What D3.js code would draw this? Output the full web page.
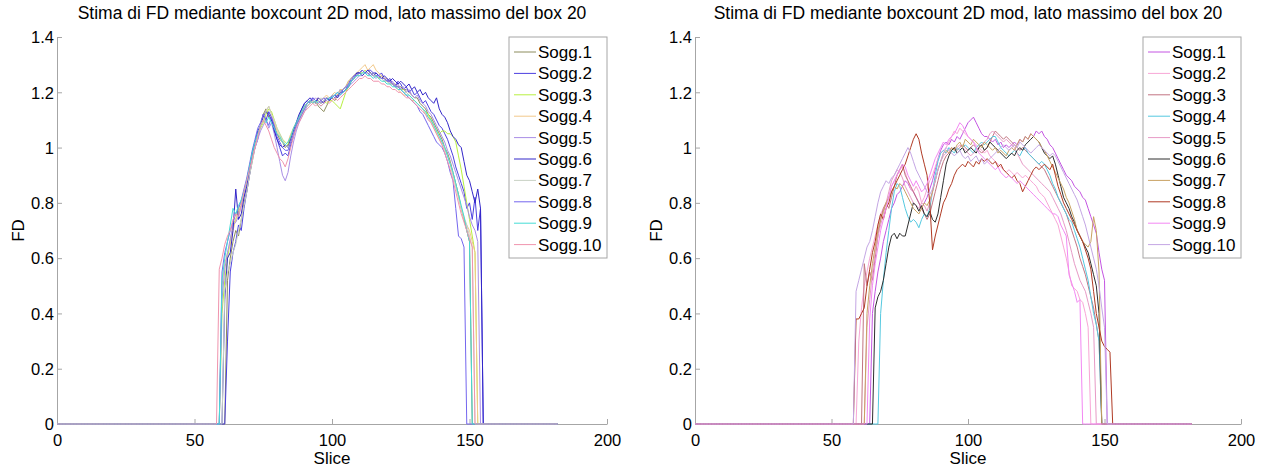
<!DOCTYPE html>
<html>
<head>
<meta charset="utf-8">
<script src="https://cdn.jsdelivr.net/npm/d3@7"></script>
<style>
  body { margin: 0; background: #fff; }
  text { font-family: "Liberation Sans", Arial, sans-serif; fill: #000; }
</style>
</head>
<body>
<div id="chart"></div>
<script>
// slices 0..182, each subject is zero outside its [start, start + values.length) window
var maxSlice = 182;
var labels = ["Sogg.1", "Sogg.2", "Sogg.3", "Sogg.4", "Sogg.5", "Sogg.6", "Sogg.7", "Sogg.8", "Sogg.9", "Sogg.10"];
var xTicks = [0, 50, 100, 150, 200];
var yTicks = [0, 0.2, 0.4, 0.6, 0.8, 1, 1.2, 1.4];
var titleText = "Stima di FD mediante boxcount 2D mod, lato massimo del box 20";

// ---- left panel ----
var leftColors = ["#8c8c5c", "#4b3fe0", "#b8f040", "#f2c98a", "#a98ee6", "#3326c9", "#c9d2c4", "#7466ee", "#44dcd6", "#f094ae"];
var leftStart = [62, 62, 60, 60, 60, 61, 61, 60, 60, 59];

var left1 = [0.52,0.60,0.66,0.70,0.68,0.74,0.80,0.84,0.90,0.95,
  1.00,1.05,1.08,1.12,1.14,1.11,1.10,1.08,1.05,1.03,
  1.02,1.00,1.01,1.04,1.07,1.09,1.11,1.13,1.15,1.16,
  1.17,1.16,1.17,1.15,1.14,1.13,1.15,1.17,1.18,1.17,
  1.19,1.20,1.21,1.22,1.24,1.25,1.26,1.27,1.27,1.28,
  1.27,1.28,1.27,1.26,1.26,1.25,1.26,1.25,1.24,1.24,
  1.23,1.23,1.22,1.22,1.21,1.21,1.20,1.19,1.18,1.18,
  1.16,1.15,1.14,1.12,1.11,1.09,1.07,1.05,1.03,1.00,
  0.98,0.95,0.91,0.87,0.83,0.78,0.74,0.70,0.66];
var left2 = [0.30,0.55,0.62,0.66,0.72,0.70,0.78,0.84,0.90,0.96,
  1.00,1.03,1.08,1.12,1.10,1.13,1.11,1.07,1.03,1.00,
  0.97,0.98,0.97,1.01,1.04,1.08,1.11,1.14,1.16,1.17,
  1.16,1.18,1.17,1.17,1.16,1.17,1.18,1.17,1.19,1.18,
  1.19,1.21,1.20,1.21,1.23,1.25,1.26,1.27,1.27,1.28,
  1.27,1.28,1.28,1.27,1.27,1.26,1.27,1.25,1.24,1.25,
  1.23,1.22,1.24,1.23,1.21,1.22,1.20,1.21,1.19,1.20,
  1.18,1.16,1.17,1.15,1.13,1.12,1.10,1.08,1.07,1.05,
  1.03,1.00,0.97,0.93,0.90,0.87,0.84,0.78,0.80,0.74,
  0.82,0.70,0.78];
var left3 = [0.40,0.52,0.60,0.66,0.72,0.74,0.77,0.79,0.83,0.88,
  0.93,0.98,1.02,1.05,1.07,1.09,1.12,1.14,1.13,1.10,
  1.07,1.05,1.03,1.02,1.01,1.03,1.06,1.08,1.10,1.12,
  1.14,1.15,1.16,1.17,1.16,1.17,1.16,1.17,1.16,1.17,
  1.17,1.16,1.15,1.14,1.17,1.20,1.22,1.24,1.25,1.26,
  1.27,1.27,1.28,1.27,1.26,1.27,1.26,1.25,1.25,1.24,
  1.24,1.23,1.23,1.22,1.22,1.21,1.21,1.20,1.19,1.18,
  1.17,1.16,1.15,1.14,1.13,1.12,1.10,1.08,1.06,1.05,
  1.06,1.06,1.05,1.05,1.04,1.02,0.97,0.92,0.86,0.80,
  0.74,0.68,0.62];
var left4 = [0.50,0.58,0.62,0.65,0.70,0.74,0.78,0.80,0.84,0.88,
  0.93,0.97,1.01,1.05,1.08,1.11,1.13,1.15,1.12,1.09,
  1.06,1.04,1.02,1.01,1.02,1.05,1.07,1.09,1.11,1.13,
  1.15,1.16,1.17,1.16,1.17,1.18,1.17,1.18,1.19,1.18,
  1.19,1.20,1.19,1.21,1.21,1.22,1.24,1.25,1.26,1.27,
  1.28,1.29,1.30,1.28,1.29,1.30,1.28,1.27,1.26,1.25,
  1.25,1.24,1.23,1.22,1.21,1.20,1.19,1.19,1.18,1.17,
  1.17,1.16,1.15,1.14,1.12,1.11,1.09,1.07,1.05,1.03,
  1.01,0.99,0.97,0.94,0.90,0.86,0.82,0.78,0.74,0.72,
  0.70,0.66,0.62];
var left5 = [0.45,0.56,0.62,0.67,0.72,0.73,0.75,0.79,0.82,0.86,
  0.91,0.96,1.00,1.03,1.06,1.08,1.10,1.07,1.09,1.05,
  1.00,0.95,0.90,0.88,0.91,0.97,1.02,1.06,1.09,1.11,
  1.13,1.15,1.16,1.17,1.18,1.17,1.16,1.17,1.18,1.17,
  1.18,1.19,1.18,1.19,1.20,1.21,1.22,1.23,1.24,1.25,
  1.26,1.26,1.27,1.26,1.27,1.26,1.25,1.26,1.25,1.24,
  1.25,1.23,1.24,1.22,1.23,1.21,1.22,1.20,1.21,1.19,
  1.18,1.19,1.17,1.16,1.15,1.13,1.12,1.10,1.08,1.06,
  1.04,1.02,0.99,0.97,0.94,0.91,0.88,0.85,0.82,0.79,
  0.75,0.72,0.70,0.66];
var left6 = [0.45,0.60,0.62,0.70,0.85,0.74,0.76,0.82,0.86,0.92,
  0.98,1.02,1.06,1.08,1.11,1.13,1.12,1.10,1.06,1.03,
  1.01,1.00,1.01,1.00,1.03,1.06,1.09,1.12,1.14,1.16,
  1.17,1.18,1.17,1.16,1.18,1.17,1.16,1.18,1.17,1.18,
  1.19,1.18,1.20,1.20,1.21,1.22,1.24,1.25,1.27,1.27,
  1.26,1.27,1.28,1.27,1.26,1.27,1.26,1.25,1.26,1.25,
  1.24,1.25,1.24,1.23,1.24,1.23,1.22,1.23,1.21,1.22,
  1.20,1.21,1.19,1.20,1.18,1.17,1.16,1.18,1.14,1.12,
  1.11,1.09,1.06,1.04,1.03,1.01,1.00,0.95,0.90,0.88,
  0.84,0.80,0.85,0.78];
var left7 = [0.48,0.55,0.58,0.62,0.65,0.70,0.74,0.79,0.84,0.90,
  0.95,1.00,1.04,1.08,1.10,1.13,1.15,1.12,1.10,1.07,
  1.05,1.03,1.01,1.00,1.02,1.05,1.08,1.10,1.12,1.14,
  1.15,1.16,1.17,1.16,1.17,1.18,1.17,1.18,1.18,1.19,
  1.19,1.20,1.20,1.21,1.22,1.23,1.24,1.25,1.26,1.26,
  1.27,1.27,1.26,1.27,1.26,1.26,1.25,1.25,1.24,1.24,
  1.23,1.23,1.22,1.22,1.21,1.20,1.20,1.19,1.18,1.17,
  1.16,1.15,1.14,1.12,1.11,1.09,1.08,1.06,1.04,1.02,
  1.00,0.97,0.94,0.90,0.86,0.82,0.78,0.75,0.72,0.68,
  0.64];
var left8 = [0.55,0.62,0.66,0.70,0.73,0.76,0.78,0.81,0.85,0.89,
  0.94,0.99,1.03,1.07,1.09,1.12,1.10,1.08,1.11,1.08,
  1.04,1.02,1.00,0.99,0.99,1.02,1.05,1.08,1.10,1.12,
  1.14,1.16,1.17,1.18,1.17,1.16,1.17,1.18,1.17,1.18,
  1.18,1.19,1.20,1.19,1.21,1.22,1.23,1.24,1.26,1.26,
  1.27,1.28,1.27,1.27,1.26,1.27,1.26,1.26,1.25,1.25,
  1.24,1.24,1.23,1.22,1.22,1.21,1.20,1.19,1.18,1.17,
  1.16,1.15,1.13,1.12,1.10,1.08,1.06,1.04,1.02,1.01,
  1.00,0.98,0.95,0.91,0.88,0.78,0.68,0.67,0.64];
var left9 = [0.52,0.60,0.66,0.72,0.78,0.76,0.79,0.81,0.84,0.88,
  0.93,0.98,1.02,1.05,1.08,1.10,1.09,1.11,1.09,1.07,
  1.05,1.04,1.02,1.01,1.02,1.04,1.07,1.09,1.11,1.13,
  1.15,1.16,1.17,1.16,1.17,1.16,1.15,1.16,1.17,1.18,
  1.18,1.19,1.20,1.19,1.20,1.21,1.22,1.24,1.25,1.26,
  1.26,1.27,1.27,1.26,1.26,1.25,1.26,1.25,1.24,1.24,
  1.23,1.23,1.22,1.22,1.21,1.21,1.20,1.19,1.19,1.18,
  1.17,1.16,1.15,1.14,1.13,1.11,1.10,1.08,1.06,1.04,
  1.02,1.00,0.97,0.94,0.91,0.87,0.83,0.79,0.75,0.70,
  0.66];
var left10 = [0.56,0.60,0.65,0.68,0.70,0.74,0.76,0.75,0.79,0.84,
  0.88,0.92,0.96,1.00,1.04,1.08,1.10,1.08,1.06,1.03,
  1.00,0.98,0.96,0.95,0.93,0.96,1.00,1.04,1.07,1.09,
  1.11,1.13,1.14,1.15,1.16,1.15,1.16,1.15,1.16,1.17,
  1.16,1.17,1.18,1.17,1.18,1.19,1.20,1.21,1.22,1.23,
  1.24,1.25,1.25,1.26,1.25,1.25,1.24,1.24,1.24,1.23,
  1.23,1.22,1.22,1.21,1.21,1.20,1.20,1.19,1.18,1.18,
  1.17,1.16,1.15,1.14,1.13,1.12,1.10,1.09,1.07,1.05,
  1.03,1.01,0.98,0.95,0.92,0.88,0.84,0.80,0.76,0.73,
  0.70,0.67,0.64];

// ---- right panel ----
var rightColors = ["#c455e2", "#f8a6d6", "#c27482", "#55c9e0", "#e79ac6", "#2e2e2e", "#c9a263", "#b03a24", "#f387f3", "#c4a6e4"];
var rightStart = [65, 60, 62, 68, 63, 66, 63, 59, 64, 59];

var right1 = [0.40,0.48,0.55,0.60,0.66,0.70,0.74,0.78,0.80,0.83,
  0.84,0.86,0.88,0.87,0.85,0.84,0.82,0.80,0.78,0.80,
  0.82,0.85,0.88,0.92,0.96,0.99,1.01,1.02,1.01,1.03,
  1.02,1.04,1.03,1.05,1.07,1.09,1.10,1.11,1.09,1.07,
  1.05,1.04,1.04,1.03,1.02,1.03,1.01,1.02,1.00,1.01,
  1.00,1.01,1.02,1.01,1.03,1.02,1.04,1.03,1.05,1.04,
  1.06,1.05,1.06,1.04,1.03,1.01,1.00,0.98,0.96,0.94,
  0.92,0.90,0.89,0.88,0.86,0.85,0.84,0.82,0.81,0.78,
  0.75,0.72,0.69,0.62,0.56,0.52];
var right2 = [0.30,0.42,0.50,0.55,0.60,0.64,0.68,0.72,0.76,0.78,
  0.80,0.82,0.86,0.88,0.90,0.92,0.93,0.91,0.88,0.85,
  0.84,0.86,0.84,0.80,0.82,0.85,0.88,0.90,0.93,0.96,
  0.98,0.99,1.00,1.02,1.04,1.06,1.05,1.07,1.06,1.05,
  1.04,1.03,1.02,1.01,1.00,0.99,0.98,0.99,0.97,0.96,
  0.95,0.94,0.93,0.92,0.91,0.92,0.91,0.90,0.91,0.90,
  0.89,0.90,0.89,0.88,0.87,0.86,0.84,0.83,0.82,0.80,
  0.78,0.76,0.74,0.72,0.68,0.64,0.60,0.55,0.50,0.49,
  0.48,0.45,0.44,0.40,0.35];
var right3 = [0.58,0.50,0.55,0.52,0.60,0.68,0.74,0.78,0.80,0.78,
  0.82,0.86,0.90,0.92,0.94,0.90,0.88,0.86,0.84,0.82,
  0.80,0.78,0.76,0.74,0.76,0.80,0.84,0.88,0.92,0.95,
  0.97,0.98,0.99,1.00,0.99,1.00,1.01,1.00,0.99,1.00,
  1.01,1.00,0.99,0.98,0.99,1.00,1.02,1.04,1.06,1.05,
  1.04,1.03,1.04,1.03,1.02,1.01,1.00,0.99,1.00,0.99,
  0.98,0.97,0.96,0.95,0.94,0.93,0.92,0.90,0.88,0.86,
  0.84,0.82,0.80,0.78,0.76,0.73,0.70,0.67,0.64,0.60,
  0.57,0.54,0.50,0.46,0.42,0.36,0.30];
var right4 = [0.40,0.52,0.62,0.70,0.78,0.84,0.87,0.86,0.82,0.78,
  0.75,0.73,0.74,0.73,0.71,0.74,0.76,0.75,0.78,0.84,
  0.90,0.95,0.98,0.99,0.98,1.00,0.99,0.98,1.00,0.99,
  1.00,1.01,1.00,0.99,0.98,1.00,1.01,1.02,1.01,1.02,
  1.03,1.04,1.04,1.02,1.00,0.99,0.98,0.97,0.98,0.99,
  0.98,0.97,0.99,1.00,0.98,0.97,0.96,0.95,0.94,0.95,
  0.94,0.92,0.90,0.87,0.85,0.82,0.80,0.78,0.76,0.74,
  0.73,0.70,0.67,0.64,0.60,0.56,0.52,0.46,0.40,0.36,
  0.30];
var right5 = [0.35,0.45,0.55,0.62,0.68,0.72,0.76,0.80,0.84,0.88,
  0.90,0.92,0.91,0.89,0.86,0.84,0.82,0.80,0.79,0.78,
  0.80,0.79,0.77,0.80,0.84,0.88,0.92,0.95,0.97,0.98,
  0.99,1.00,0.99,1.00,1.01,1.00,0.99,0.98,0.97,0.98,
  0.99,1.00,1.01,1.02,1.03,1.05,1.06,1.05,1.04,1.03,
  1.02,1.03,1.02,1.01,1.00,0.98,0.96,0.94,0.93,0.92,
  0.91,0.90,0.89,0.88,0.87,0.86,0.85,0.84,0.82,0.80,
  0.78,0.76,0.73,0.70,0.66,0.62,0.58,0.55,0.52,0.50,
  0.48,0.44,0.40,0.35];
var right6 = [0.42,0.46,0.48,0.52,0.58,0.64,0.68,0.69,0.67,0.69,
  0.68,0.68,0.72,0.76,0.80,0.79,0.77,0.79,0.76,0.75,
  0.77,0.74,0.73,0.76,0.82,0.88,0.94,0.97,0.99,1.00,
  0.98,0.99,1.00,0.98,0.99,1.00,0.99,0.98,1.00,1.01,
  0.99,1.00,1.02,1.01,1.00,0.99,0.98,0.97,0.96,0.97,
  0.98,0.97,0.99,1.00,0.99,1.01,1.02,1.03,1.04,1.03,
  1.02,1.00,0.98,0.97,0.96,0.97,0.94,0.90,0.86,0.82,
  0.80,0.78,0.75,0.73,0.70,0.68,0.66,0.64,0.62,0.58,
  0.54,0.50,0.40];
var right7 = [0.40,0.50,0.58,0.64,0.70,0.74,0.77,0.80,0.82,0.84,
  0.86,0.85,0.87,0.86,0.84,0.82,0.80,0.78,0.77,0.76,
  0.78,0.80,0.79,0.81,0.84,0.88,0.92,0.95,0.98,0.99,
  0.98,1.00,0.99,1.01,1.02,1.00,1.03,1.02,1.01,1.03,
  1.02,1.01,1.00,1.02,1.01,1.00,0.99,1.00,0.98,0.99,
  0.98,0.97,0.99,1.00,0.99,1.01,1.03,1.02,1.04,1.03,
  1.05,1.04,1.03,1.02,1.00,0.99,0.97,0.95,0.93,0.91,
  0.89,0.87,0.85,0.82,0.80,0.77,0.74,0.70,0.68,0.66,
  0.65,0.64,0.66,0.75,0.70,0.55];
var right8 = [0.38,0.38,0.40,0.42,0.50,0.56,0.62,0.66,0.72,0.76,
  0.74,0.78,0.80,0.84,0.86,0.88,0.90,0.92,0.94,0.97,
  1.00,1.03,1.05,1.03,0.98,0.94,0.90,0.80,0.63,0.68,
  0.72,0.76,0.80,0.82,0.85,0.87,0.90,0.92,0.93,0.94,
  0.93,0.95,0.94,0.93,0.95,0.94,0.96,0.95,0.96,0.95,
  0.94,0.95,0.93,0.94,0.92,0.91,0.90,0.89,0.90,0.88,
  0.87,0.84,0.86,0.88,0.90,0.92,0.93,0.92,0.93,0.94,
  0.93,0.92,0.94,0.90,0.86,0.83,0.80,0.78,0.76,0.74,
  0.72,0.70,0.68,0.66,0.63,0.60,0.56,0.48,0.40,0.35,
  0.30,0.28,0.27,0.26];
var right9 = [0.38,0.50,0.58,0.64,0.70,0.74,0.78,0.82,0.86,0.88,
  0.90,0.92,0.94,0.93,0.90,0.88,0.86,0.88,0.86,0.84,
  0.85,0.87,0.90,0.93,0.96,0.98,1.00,1.02,1.01,1.03,
  1.04,1.05,1.07,1.09,1.08,1.06,1.04,1.03,1.02,1.00,
  0.98,0.97,0.96,0.95,0.94,0.93,0.92,0.93,0.91,0.90,
  0.89,0.90,0.89,0.88,0.87,0.88,0.87,0.86,0.85,0.84,
  0.83,0.82,0.81,0.80,0.79,0.78,0.77,0.76,0.76,0.75,
  0.72,0.70,0.68,0.54,0.51,0.48,0.44,0.45];
var right10 = [0.48,0.52,0.56,0.60,0.64,0.66,0.70,0.75,0.80,0.84,
  0.86,0.88,0.87,0.89,0.90,0.92,0.94,0.96,0.98,1.00,
  0.98,0.95,0.92,0.90,0.88,0.86,0.84,0.83,0.85,0.88,
  0.92,0.95,0.98,1.00,0.99,0.98,0.97,0.98,0.99,0.97,
  0.96,0.97,0.95,0.96,0.97,0.95,0.96,0.94,0.95,0.96,
  0.97,0.98,0.99,1.00,1.01,1.00,0.99,1.00,1.01,1.00,
  1.02,1.01,1.00,0.99,0.98,0.99,1.00,1.01,1.00,0.99,
  0.98,0.97,0.98,0.97,0.95,0.93,0.91,0.89,0.87,0.85,
  0.83,0.81,0.78,0.75,0.72,0.68,0.64,0.60,0.56,0.50,
  0.42,0.35];

var leftValues = [left1, left2, left3, left4, left5, left6, left7, left8, left9, left10];
var rightValues = [right1, right2, right3, right4, right5, right6, right7, right8, right9, right10];

var svgWidth = 1269;
var svgHeight = 468;

var svg = d3.select("#chart")
  .append("svg")
  .attr("width", svgWidth)
  .attr("height", svgHeight);

// zero outside each subject's window
function buildSeries(start, values) {
  var pts = [];
  for (var s = 0; s <= maxSlice; s++) {
    var i = s - start;
    pts.push({ slice: s, fd: (i >= 0 && i < values.length) ? values[i] : 0 });
  }
  return pts;
}

function drawPanel(x0, x1, starts, valueSets, colors) {
  var top = 37, bottom = 424;
  var axisColor = "#a6a6a6";

  var xScale = d3.scaleLinear().domain([0, 200]).range([x0, x1]);
  var yScale = d3.scaleLinear().domain([0, 1.4]).range([bottom, top]);

  var g = svg.append("g");

  // axes, ticks pointing inwards
  var xAxis = d3.axisBottom(xScale).tickValues(xTicks).tickSizeInner(-5).tickSizeOuter(0).tickPadding(10)
    .tickFormat(d3.format("d"));
  var yAxis = d3.axisLeft(yScale).tickValues(yTicks).tickSizeInner(-5).tickSizeOuter(0).tickPadding(3)
    .tickFormat(d => d === 0 || d === 1 ? String(d) : d3.format(".1f")(d));

  var gx = g.append("g").attr("transform", `translate(0, ${bottom})`).call(xAxis);
  var gy = g.append("g").attr("transform", `translate(${x0}, 0)`).call(yAxis);

  [gx, gy].forEach(function(a) {
    a.select(".domain").attr("stroke", axisColor);
    a.selectAll(".tick line").attr("stroke", axisColor);
    a.selectAll(".tick text").attr("font-size", 16.5).attr("fill", "#000")
      .style("font-family", "'Liberation Sans', Arial, sans-serif");
  });
  gy.selectAll(".tick text").attr("dy", "0.35em");

  var line = d3.line()
    .x(d => xScale(d.slice))
    .y(d => yScale(d.fd));

  valueSets.forEach(function(vals, i) {
    g.append("path")
      .datum(buildSeries(starts[i], vals))
      .attr("fill", "none")
      .attr("stroke", colors[i])
      .attr("stroke-width", 1)
      .attr("d", line);
  });

  // title and axis labels
  g.append("text")
    .attr("x", (x0 + x1) / 2)
    .attr("y", 19)
    .attr("text-anchor", "middle")
    .attr("font-size", 17.5)
    .text(titleText);

  g.append("text")
    .attr("x", (x0 + x1) / 2)
    .attr("y", 464)
    .attr("text-anchor", "middle")
    .attr("font-size", 17)
    .text("Slice");

  g.append("text")
    .attr("transform", `translate(${x0 - 33}, ${(top + bottom) / 2}) rotate(-90)`)
    .attr("text-anchor", "middle")
    .attr("font-size", 17)
    .text("FD");

  // legend
  var lw = 98, lh = 221;
  var lx = x1 - lw, ly = top;
  var legend = g.append("g").attr("transform", `translate(${lx}, ${ly})`);
  legend.append("rect")
    .attr("width", lw).attr("height", lh)
    .attr("fill", "#fff")
    .attr("stroke", axisColor);

  labels.forEach(function(lab, i) {
    var cy = 15 + i * 21.4;
    legend.append("line")
      .attr("x1", 5).attr("x2", 27)
      .attr("y1", cy).attr("y2", cy)
      .attr("stroke", colors[i]);
    legend.append("text")
      .attr("x", 29)
      .attr("y", cy)
      .attr("dy", "0.35em")
      .attr("font-size", 17)
      .text(lab);
  });
}

drawPanel(57, 607, leftStart, leftValues, leftColors);
drawPanel(695, 1241, rightStart, rightValues, rightColors);
</script>
</body>
</html>
